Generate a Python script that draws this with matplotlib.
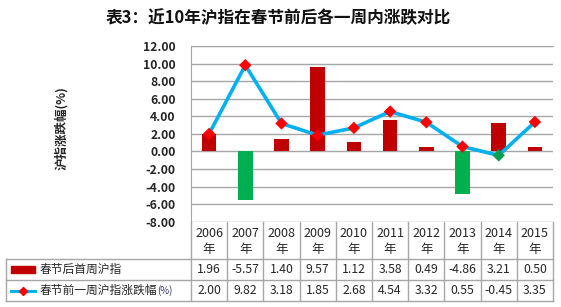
import matplotlib
matplotlib.use("Agg")
import matplotlib.pyplot as plt
import matplotlib.transforms as mtransforms
from matplotlib.lines import Line2D
from matplotlib.patches import Rectangle
import numpy as np

plt.rcParams['font.family'] = ['Noto Sans CJK SC', 'DejaVu Sans']

years = ["2006", "2007", "2008", "2009", "2010", "2011", "2012", "2013", "2014", "2015"]
after_week = [1.96, -5.57, 1.40, 9.57, 1.12, 3.58, 0.49, -4.86, 3.21, 0.50]
before_week = [2.00, 9.82, 3.18, 1.85, 2.68, 4.54, 3.32, 0.55, -0.45, 3.35]
bar_name = "春节后首周沪指"
line_name = "春节前一周沪指涨跌幅"
title = "表3：近10年沪指在春节前后各一周内涨跌对比"
ylabel = "沪指涨跌幅(%)"

W, H = 561, 307
red, green, blue = "#C00000", "#00B050", "#00B0F0"
grid_c = "#A6A6A6"
txt_c = "#262626"

fig = plt.figure(figsize=(W / 100, H / 100), dpi=100)
# plot area in pixel coordinates (left, top, right, bottom)
L, T, R, B = 191, 46, 553, 221.7
ax = fig.add_axes([L / W, 1 - B / H, (R - L) / W, (B - T) / H])

x = np.arange(len(years))
bar_cols = [red if v >= 0 else green for v in after_week]
ax.bar(x, after_week, width=0.4, color=bar_cols, zorder=2)
ax.plot(x, before_week, color=blue, lw=2.6, zorder=3)
mk_cols = ["#FF0000" if v >= 0 else "#00A050" for v in before_week]
ax.scatter(x, before_week, marker="D", s=40, c=mk_cols, zorder=4, linewidths=0)

ax.set_xlim(-0.5, len(years) - 0.5)
ax.set_ylim(-8, 12)
ax.set_yticks(np.arange(-8, 13, 2))
ax.set_yticklabels([f"{v:.2f}" for v in np.arange(-8, 13, 2)], fontweight="bold",
                   fontsize=8.8, color=txt_c)
ax.tick_params(axis="y", length=0, pad=11)
ax.set_xticks([])
ax.grid(axis="y", color=grid_c, lw=1, zorder=0)
for s in ["right", "bottom"]:
    ax.spines[s].set_visible(False)
ax.spines["left"].set_color(grid_c)
ax.spines["top"].set_color(grid_c)
ax.set_ylabel(ylabel, fontweight="bold", fontsize=9, color=txt_c)
ax.yaxis.set_label_coords(-0.338, 0.533)

fig.text(278 / W, 1 - 18 / H, title, ha="center", va="center", fontsize=12,
         fontweight="bold", color="#111111")

# data table under the plot: x from the axis scale, y in pixels
pix = mtransforms.Affine2D().scale(1 / W, -1 / H).translate(0, 1) + fig.transFigure
tr = mtransforms.blended_transform_factory(ax.transData, pix)
rows = [B, 259, 280, 301]
edges = np.arange(len(years) + 1) - 0.5

def pline(xs, ys, t):
    fig.add_artist(Line2D(xs, ys, transform=t, color=grid_c, lw=1))

for e in edges:
    pline([e, e], [B, rows[-1]], tr)
for y in rows[1:]:
    pline([6, R], [y, y], pix)
pline([6, 6], [rows[1], rows[-1]], pix)

for i, yr in enumerate(years):
    fig.text(i, (B + rows[1]) / 2 + 1, yr + "\n年", transform=tr, ha="center", va="center",
             fontsize=9, color=txt_c, linespacing=1.25)
    fig.text(i, (rows[1] + rows[2]) / 2, f"{after_week[i]:.2f}", transform=tr,
             ha="center", va="center", fontsize=8.8, color=txt_c)
    fig.text(i, (rows[2] + rows[3]) / 2, f"{before_week[i]:.2f}", transform=tr,
             ha="center", va="center", fontsize=8.8, color=txt_c)

# legend keys in the row headers
y1 = (rows[1] + rows[2]) / 2
y2 = (rows[2] + rows[3]) / 2
fig.add_artist(Rectangle((11, y1 - 3.5), 24, 7, transform=pix, color=red))
fig.add_artist(Line2D([11, 35], [y2, y2], transform=pix, color=blue, lw=2.2))
fig.add_artist(Line2D([23], [y2], transform=pix, marker="D", ms=4.5, color="#FF0000", lw=0))
fig.text(40, y1, bar_name, transform=pix, ha="left", va="center", fontsize=8.5, color=txt_c)
t2 = fig.text(40, y2, line_name, transform=pix, ha="left", va="center", fontsize=8.5,
              color=txt_c)
fig.canvas.draw()
bb = t2.get_window_extent()
fig.text(bb.x1 / (W), 1 - (y2 + 0.5) / H, "(%)", ha="left", va="center", fontsize=7,
         color="#333366")

fig.savefig("out.png", dpi=100)
